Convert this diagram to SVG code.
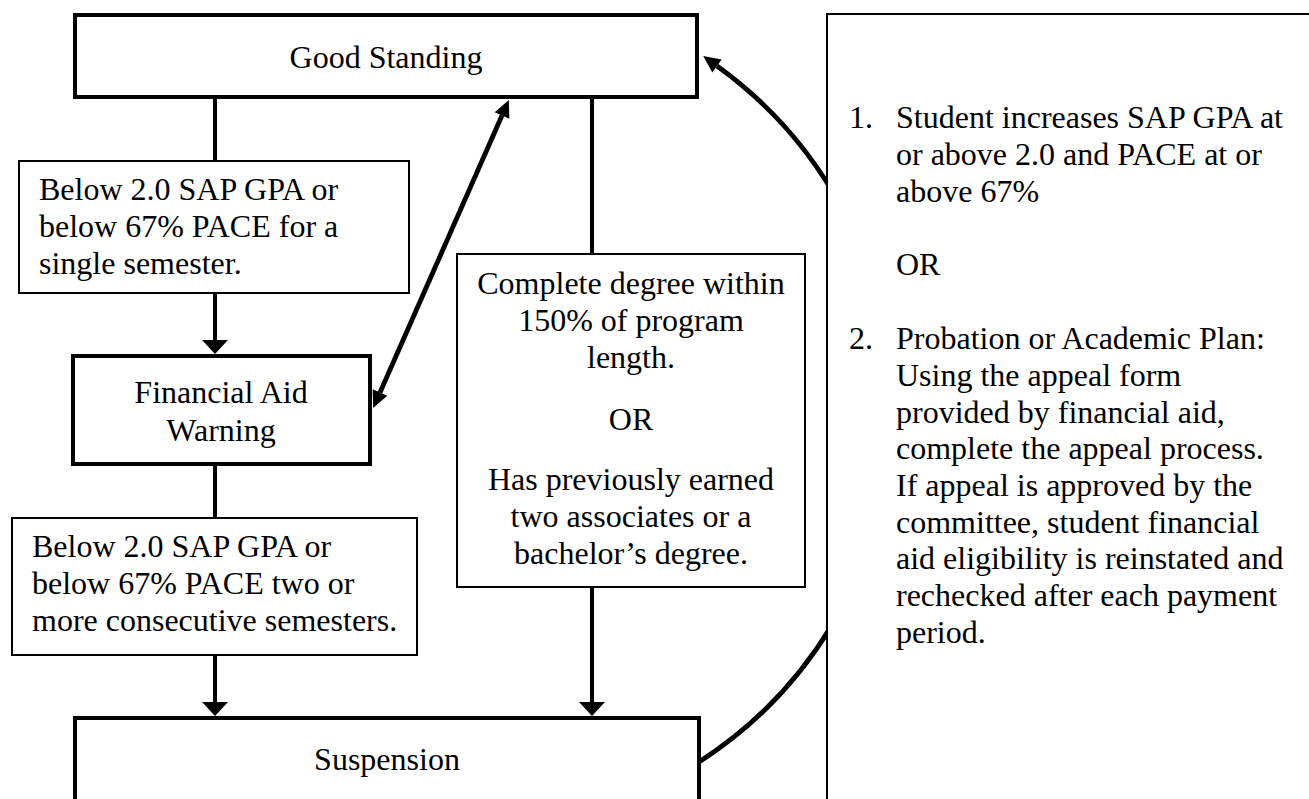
<svg xmlns="http://www.w3.org/2000/svg" width="1309" height="799" viewBox="0 0 1309 799">
<style>
  text { font-family: "Liberation Serif", "Times New Roman", serif; font-size: 32px; fill: #000; }
  .c { text-anchor: middle; }
  .thick { fill: #fff; stroke: #000; stroke-width: 4; }
  .thin { fill: #fff; stroke: #000; stroke-width: 2; }
  .conn { fill: none; stroke: #000; stroke-width: 4; }
  .diag { stroke-width: 4.8; }
</style>
<defs>
  <marker id="arrV" markerUnits="userSpaceOnUse" markerWidth="16" markerHeight="28" refX="0" refY="13" orient="auto" overflow="visible">
    <path d="M0,0 L14,13 L0,26 Z" fill="#000"/>
  </marker>
  <marker id="arrS" markerUnits="userSpaceOnUse" markerWidth="18" markerHeight="18" refX="0" refY="8" orient="auto-start-reverse" overflow="visible">
    <path d="M0,0 L17,8 L0,16 Z" fill="#000"/>
  </marker>
</defs>
<rect width="1309" height="799" fill="#fff"/>

<g id="connectors">
  <line class="conn" x1="215" y1="97" x2="215" y2="162"/>
  <line class="conn" x1="215" y1="293" x2="215" y2="340" marker-end="url(#arrV)"/>
  <line class="conn" x1="215" y1="464" x2="215" y2="519"/>
  <line class="conn" x1="215" y1="655" x2="215" y2="702" marker-end="url(#arrV)"/>
  <line class="conn" x1="592" y1="97" x2="592" y2="255"/>
  <line class="conn" x1="592" y1="587" x2="592" y2="702" marker-end="url(#arrV)"/>
  <line class="conn diag" x1="380" y1="392.5" x2="502" y2="115.5" marker-start="url(#arrS)" marker-end="url(#arrS)"/>
  <path class="conn diag" d="M 699 762 A 421 421 0 0 0 717 66" marker-end="url(#arrS)"/>
</g>

<g id="good-standing">
  <rect class="thick" x="75" y="15" width="622" height="82"/>
  <text class="c" x="386" y="68">Good Standing</text>
</g>

<g id="below-single">
  <rect class="thin" x="19" y="161" width="390" height="132"/>
  <text x="39" y="200">Below 2.0 SAP GPA or</text>
  <text x="39" y="236.8">below 67% PACE for a</text>
  <text x="39" y="273.6">single semester.</text>
</g>

<g id="financial-aid-warning">
  <rect class="thick" x="73" y="356" width="297" height="108"/>
  <text class="c" x="221" y="403">Financial Aid</text>
  <text class="c" x="221" y="441">Warning</text>
</g>

<g id="below-consecutive">
  <rect class="thin" x="12" y="518" width="405" height="137"/>
  <text x="32" y="557">Below 2.0 SAP GPA or</text>
  <text x="32" y="594">below 67% PACE two or</text>
  <text x="32" y="631">more consecutive semesters.</text>
</g>

<g id="complete-degree">
  <rect class="thin" x="457" y="254" width="348" height="333"/>
  <text class="c" x="631" y="294">Complete degree within</text>
  <text class="c" x="631" y="331">150% of program</text>
  <text class="c" x="631" y="368">length.</text>
  <text class="c" x="631" y="430">OR</text>
  <text class="c" x="631" y="490">Has previously earned</text>
  <text class="c" x="631" y="527">two associates or a</text>
  <text class="c" x="631" y="564">bachelor’s degree.</text>
</g>

<g id="suspension">
  <rect class="thick" x="75" y="718" width="624" height="120"/>
  <text class="c" x="387" y="770">Suspension</text>
</g>

<g id="reinstatement-panel">
  <rect class="thin" x="827" y="14" width="600" height="900"/>
  <text x="849" y="128">1.</text>
  <text x="896" y="128">Student increases SAP GPA at</text>
  <text x="896" y="165">or above 2.0 and PACE at or</text>
  <text x="896" y="202">above 67%</text>
  <text x="896" y="275">OR</text>
  <text x="849" y="349">2.</text>
  <text x="896" y="349">Probation or Academic Plan:</text>
  <text x="896" y="386">Using the appeal form</text>
  <text x="896" y="423">provided by financial aid,</text>
  <text x="896" y="459">complete the appeal process.</text>
  <text x="896" y="496">If appeal is approved by the</text>
  <text x="896" y="533">committee, student financial</text>
  <text x="896" y="569">aid eligibility is reinstated and</text>
  <text x="896" y="606">rechecked after each payment</text>
  <text x="896" y="643">period.</text>
</g>
</svg>
